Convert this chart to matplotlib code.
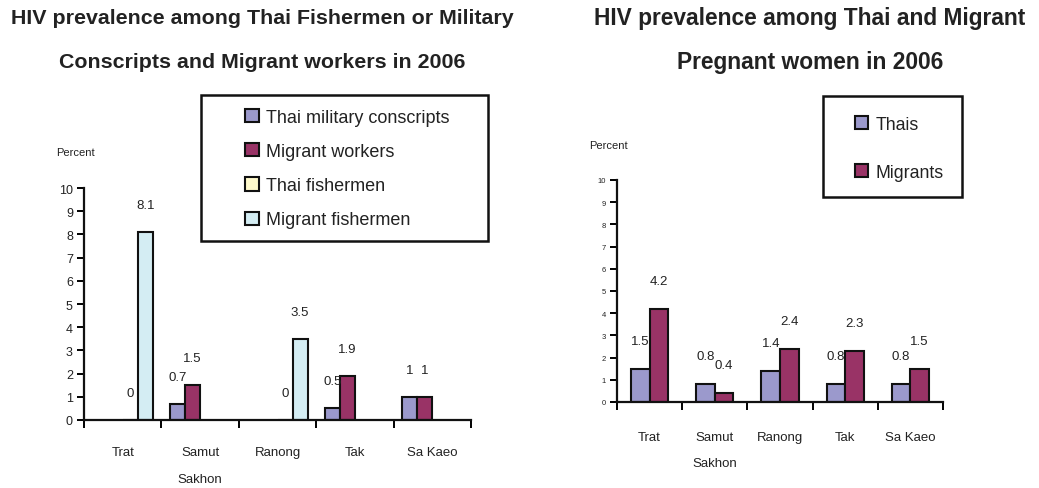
import numpy as np
import matplotlib
matplotlib.use("Agg")
import matplotlib.pyplot as plt
from matplotlib.patches import Rectangle, Patch

plt.rcParams['font.family'] = ['Liberation Sans', 'DejaVu Sans']
plt.rcParams['text.color'] = '#222222'

# data - left chart
regions = ['Trat', 'Samut\nSakhon', 'Ranong', 'Tak', 'Sa Kaeo']
conscripts = [np.nan, 0.7, np.nan, 0.5, 1]
migrant_workers = [np.nan, 1.5, np.nan, 1.9, 1]
thai_fishermen = [0, np.nan, 0, np.nan, np.nan]
migrant_fishermen = [8.1, np.nan, 3.5, np.nan, np.nan]
left_series = ['Thai military conscripts', 'Migrant workers', 'Thai fishermen', 'Migrant fishermen']

# data - right chart
thais = [1.5, 0.8, 1.4, 0.8, 0.8]
migrants = [4.2, 0.4, 2.4, 2.3, 1.5]
right_series = ['Thais', 'Migrants']

c_thai = '#9b99cc'
c_mig = '#993366'
c_tfish = '#fffacc'
c_mfish = '#d4edf3'

W, H = 1039, 489
fig = plt.figure(figsize=(W / 100, H / 100), dpi=100)


def px_axes(x0, x1, y0, y1):
    # pixel box -> figure fraction
    return fig.add_axes([x0 / W, 1 - y0 / H, (x1 - x0) / W, (y0 - y1) / H])


def style_axes(ax, ytick_size, pad, lsp):
    ax.set_xlim(-0.5, len(regions) - 0.5)
    ax.set_ylim(0, 10)
    for s in ['top', 'right']:
        ax.spines[s].set_visible(False)
    for s in ['left', 'bottom']:
        ax.spines[s].set_linewidth(1.6)
        ax.spines[s].set_color('#111111')
    ax.set_yticks(range(0, 11))
    ax.tick_params(axis='y', direction='out', length=5, width=1.4, labelsize=ytick_size,
                   pad=3, labelcolor='#222222')
    ax.set_xticks(np.arange(-0.5, len(regions)), labels=[])
    ax.tick_params(axis='x', which='major', direction='out', length=6, width=1.4)
    ax.set_xticks(range(len(regions)), labels=regions, minor=True)
    ax.tick_params(axis='x', which='minor', length=0, labelsize=9.5, pad=pad, labelcolor='#222222')
    for t in ax.get_xticklabels(minor=True):
        t.set_linespacing(lsp)


def label_bars(ax, xs, vals, off=27):
    for x, v in zip(xs, vals):
        if np.isnan(v):
            continue
        ax.annotate(f'{v:g}', (x, v), xytext=(0, off), textcoords='offset pixels',
                    ha='center', va='center', fontsize=9.5, color='#222222')


# ---- left chart ----
ax1 = px_axes(84, 471, 421, 189)
x = np.arange(len(regions))
bw = 0.195
left_data = [conscripts, migrant_workers, thai_fishermen, migrant_fishermen]
left_cols = [c_thai, c_mig, c_tfish, c_mfish]
for i, (vals, col) in enumerate(zip(left_data, left_cols)):
    xs = x + (i - 1.5) * bw
    ax1.bar(xs, vals, bw, color=col, edgecolor='#111111', linewidth=1.5)
    label_bars(ax1, xs, vals)
style_axes(ax1, 9, 19, 2.65)
fig.text(75 / W, 1 - 153 / H, 'Percent', ha='center', va='center', fontsize=8)

fig.text(262 / W, 1 - 18 / H, 'HIV prevalence among Thai Fishermen or Military',
         ha='center', va='center', fontsize=15.4, fontweight='bold')
fig.text(262 / W, 1 - 63 / H, 'Conscripts and Migrant workers in 2006',
         ha='center', va='center', fontsize=15.4, fontweight='bold')

fig.add_artist(Rectangle((201 / W, 1 - 242 / H), 287 / W, 146 / H, transform=fig.transFigure,
                         fill=False, edgecolor='#111111', linewidth=1.8))
h1 = [Patch(facecolor=c, edgecolor='#111111', linewidth=1.5) for c in left_cols]
fig.legend(h1, left_series, loc='upper left', bbox_to_anchor=(236 / W, 1 - 101 / H),
           frameon=False, fontsize=13, handlelength=0.75, handleheight=0.75,
           handletextpad=0.4, labelspacing=0.95, borderpad=0)

# ---- right chart ----
ax2 = px_axes(617, 943, 403, 181)
bw2 = 0.285
for i, (vals, col) in enumerate(zip([thais, migrants], [c_thai, c_mig])):
    xs = x + (i - 0.5) * bw2
    ax2.bar(xs, vals, bw2, color=col, edgecolor='#111111', linewidth=1.5)
    label_bars(ax2, xs, vals, off=28)
style_axes(ax2, 5.5, 21, 2.5)
fig.text(608 / W, 1 - 146 / H, 'Percent', ha='center', va='center', fontsize=8)

fig.text(810 / W, 1 - 18 / H, 'HIV prevalence among Thai and Migrant',
         ha='center', va='center', fontsize=16.4, fontweight='bold')
fig.text(810 / W, 1 - 63 / H, 'Pregnant women in 2006',
         ha='center', va='center', fontsize=16.4, fontweight='bold')

fig.add_artist(Rectangle((823 / W, 1 - 198 / H), 139 / W, 101 / H, transform=fig.transFigure,
                         fill=False, edgecolor='#111111', linewidth=1.8))
h2 = [Patch(facecolor=c, edgecolor='#111111', linewidth=1.5) for c in [c_thai, c_mig]]
fig.legend(h2, right_series, loc='upper left', bbox_to_anchor=(846 / W, 1 - 108 / H),
           frameon=False, fontsize=12.8, handlelength=0.75, handleheight=0.75,
           handletextpad=0.4, labelspacing=1.75, borderpad=0)

fig.savefig('out.png', dpi=100)
